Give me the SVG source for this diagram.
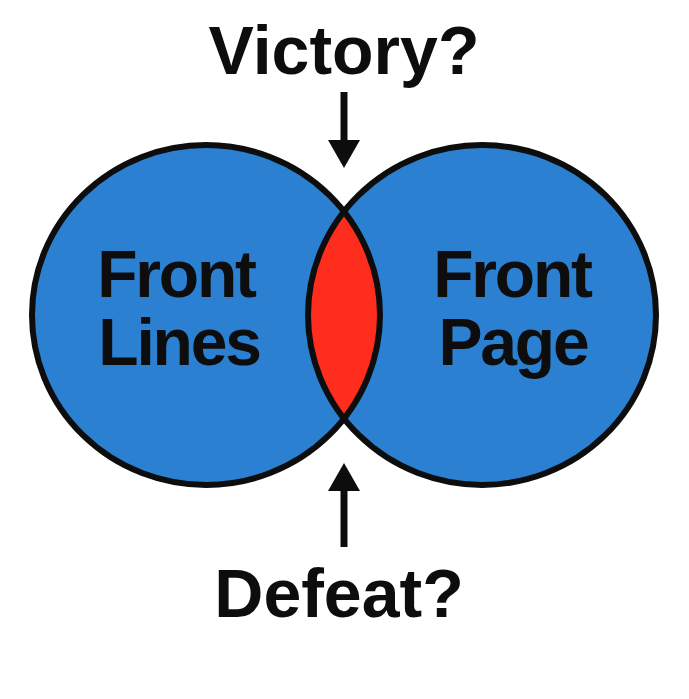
<svg xmlns="http://www.w3.org/2000/svg" width="689" height="699" viewBox="0 0 689 699">
  <style>
    .lbl { font-family: "Liberation Sans", Arial, Helvetica, sans-serif; font-weight: bold; fill: #0d0d0d; }
    .big { font-size: 68px; }
    .inner { font-size: 66px; letter-spacing: -2.2px; }
    .circ { fill: #2B80D1; }
    .edge { fill: none; stroke: #0d0d0d; stroke-width: 6; }
    .shaft { stroke: #0d0d0d; stroke-width: 7; fill: none; }
    .head { fill: #0d0d0d; }
  </style>
  <defs>
    <clipPath id="clipLeft">
      <ellipse cx="206" cy="315" rx="174" ry="170"/>
    </clipPath>
  </defs>
  <rect width="689" height="699" fill="#ffffff"/>

  <g id="node-front-lines">
    <ellipse class="circ" cx="206" cy="315" rx="174" ry="170"/>
  </g>
  <g id="node-front-page">
    <ellipse class="circ" cx="482" cy="315" rx="174" ry="170"/>
  </g>
  <g id="node-overlap">
    <ellipse cx="482" cy="315" rx="174" ry="170" fill="#FF2D1E" clip-path="url(#clipLeft)"/>
  </g>
  <g id="outlines">
    <ellipse class="edge" cx="206" cy="315" rx="174" ry="170"/>
    <ellipse class="edge" cx="482" cy="315" rx="174" ry="170"/>
  </g>

  <g id="labels-inner">
    <text class="lbl inner" x="176" y="297" text-anchor="middle">Front</text>
    <text class="lbl inner" x="179" y="365" text-anchor="middle">Lines</text>
    <text class="lbl inner" x="512" y="297" text-anchor="middle">Front</text>
    <text class="lbl inner" x="513" y="365" text-anchor="middle">Page</text>
  </g>

  <g id="node-victory">
    <text class="lbl big" x="344" y="74" text-anchor="middle">Victory?</text>
  </g>
  <g id="node-defeat">
    <text class="lbl big" x="339" y="617" text-anchor="middle">Defeat?</text>
  </g>

  <g id="connectors">
    <line class="shaft" x1="344" y1="92" x2="344" y2="142"/>
    <polygon class="head" points="328,140 360,140 344,168"/>
    <line class="shaft" x1="344" y1="547" x2="344" y2="489"/>
    <polygon class="head" points="328,491 360,491 344,463"/>
  </g>
</svg>
